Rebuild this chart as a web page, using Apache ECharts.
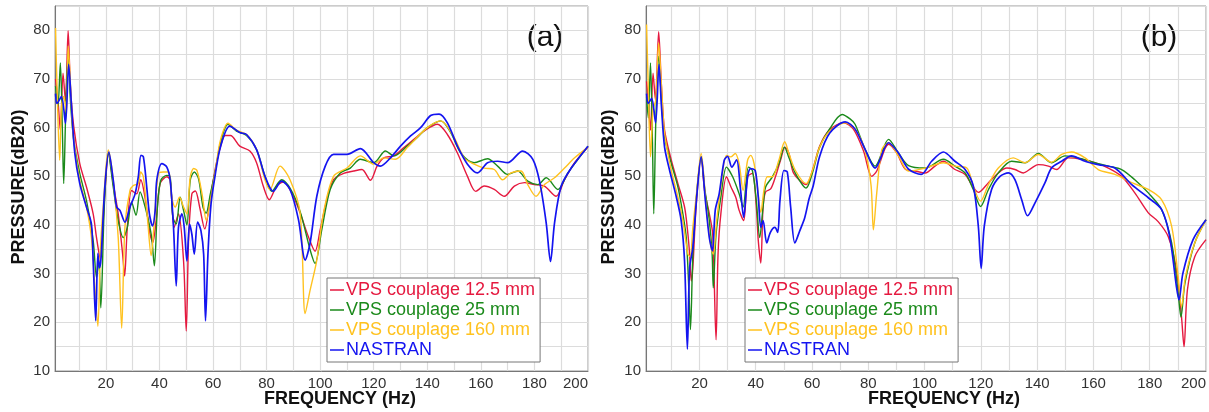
<!DOCTYPE html>
<html>
<head>
<meta charset="utf-8">
<script src="https://cdn.jsdelivr.net/npm/echarts@6/dist/echarts.min.js"></script>
<style>
  html, body { margin: 0; padding: 0; background: #fff; }
  #chart { width: 1209px; height: 412px; }
</style>
</head>
<body>
<div id="chart"></div>
<script>
// series names and colours
const seriesNames = ["VPS couplage 12.5 mm", "VPS couplage 25 mm", "VPS couplage 160 mm", "NASTRAN"];
const seriesColors = ["#E5193F", "#1B8A1B", "#FFC21F", "#1414F0"];

// panel (a) : [frequency Hz, pressure dB]
const redA = [[1.2,70],[2.1,65.7],[3,59.5],[4,71.2],[4.9,65.4],[5.9,79.9],[6.75,68.5],[8,60.2],[10.25,52.6],[12.75,47.8],[15.25,42.3],[16.5,37.4],[17.9,33],[19.6,46.4],[21,54.7],[22.75,48.5],[24.6,42.3],[26.25,34],[27,29.5],[28,39.5],[29.6,47.1],[31.5,46.4],[33,49.3],[34.6,45.7],[36.5,38.1],[37.5,36.4],[38.75,40.9],[40.25,48.5],[42.75,49.9],[44,49.2],[45.5,39.5],[47.1,42.3],[49,32.6],[50,18.2],[50.9,37.4],[52.1,46.4],[53.4,47],[55,43.7],[56.9,39.2],[59,45.7],[61,52],[62.75,56],[64.5,58.4],[66.5,58.4],[70,56.2],[73.75,55.2],[76.25,52.8],[78.75,48],[81,45.2],[83.75,48],[86.25,48.8],[89.4,46.6],[92.5,42.5],[95.6,37.6],[98.1,34.6],[100,39],[102.5,45.2],[105,49.3],[108.75,50.6],[112.5,51.1],[115.6,51.4],[118.75,49.2],[121.25,52.1],[123.75,53.8],[127.5,54.2],[131.25,55.9],[135,57.6],[138.75,59.3],[143.75,60.7],[147.5,58.6],[151.25,54.8],[155,50],[158.1,46.9],[161.25,48],[165,47.3],[168.75,45.9],[172.5,48],[176.25,48.7],[180,48.3],[183.75,48],[188.1,45.9],[191.25,49.3],[195,52.8],[200,56]];
const greenA = [[1.2,68.5],[2.1,64.3],[3,73.3],[3.75,59.5],[4.25,48.5],[5,63],[5.9,75.4],[6.75,65.7],[8,57.4],[10.25,50.6],[12.75,45],[15.25,36.8],[16.5,29.2],[17.3,33],[18.1,23],[19.4,43.7],[20.9,54.7],[22.75,47.8],[24.6,40.9],[26.5,37.4],[28,39.5],[29.6,44.7],[31.25,42],[32.75,46.8],[34,45],[35.9,40.9],[37.1,37.4],[38.1,31.6],[39.25,43.7],[40.5,49.2],[42.75,50.2],[44,49.9],[45,41.6],[46.25,40.2],[47.75,45.7],[49,43],[50.25,40],[51.5,49.2],[53,50.9],[54.6,49.5],[56.25,43.7],[57.4,42.4],[59,46.4],[60.9,51.2],[62.75,56.8],[65.6,60.7],[68.75,59.3],[72.5,58.4],[76.25,55.5],[79.4,50],[81.9,46.9],[85.6,49.3],[88.75,47.6],[92.5,42.8],[96.25,34.9],[98.1,32.1],[100.6,39],[103.75,47.3],[107.5,50.7],[111.25,51.7],[115,53.5],[120,52.8],[124.4,55.2],[127.5,54.2],[132.5,56.2],[136.25,58],[140,60],[145,61.4],[148.75,59],[152.5,54.8],[157.5,52.8],[162.5,53.6],[166.25,52.1],[170,50.4],[173.75,51.1],[177.5,49],[181.25,48.3],[184.4,49.7],[188.75,47.3],[192.5,50.7],[196.25,53.5],[200,56.2]];
const yellowA = [[1.2,80.5],[1.75,68.5],[2.75,53.3],[3.4,64.3],[4.25,66.4],[5.25,63],[5.9,76.8],[6.5,71.9],[7.75,58.8],[10.25,49.2],[12.75,43.7],[14.6,37.4],[15.9,27.1],[17,19.2],[18,35.4],[19,43.7],[20.9,55.4],[22.75,49.2],[24.6,37.4],[25.9,18.8],[27.1,39.5],[29,47.1],[30.25,48.1],[32.1,48.5],[33,50.9],[34,49.9],[35.6,40.9],[36.9,33.7],[38,40.2],[39.6,50.6],[41.5,50.9],[43.4,50.9],[44.6,45.7],[45.9,43.7],[47.5,45.7],[49,43.7],[50.25,42.3],[51.5,49.9],[52.75,51.6],[54,51.2],[55.9,46.4],[57.5,40.9],[59,45],[60.9,51.2],[62.75,57.4],[65.6,60.9],[68.75,59.5],[72.5,58.6],[76.25,55.5],[79.4,49.3],[81.25,47.3],[85,52.1],[88.75,49.3],[92.5,42.5],[94.4,21.8],[96.25,26.6],[98.75,32.8],[101.25,42.5],[105,50],[110,51.7],[115,54.2],[120,52.5],[123.75,53.8],[128.1,53.5],[132.5,55.9],[140,60],[145,61.4],[150,58],[153.75,53.8],[157.5,52.5],[161.25,51.7],[165,51.4],[168.1,49.3],[171.25,50.7],[175,51.1],[177.5,48.3],[180.6,45.9],[183.75,48.3],[187.5,49.7],[191.25,51.7],[195,53.8],[200,56]];
const blueA = [[1.2,67],[1.75,65],[3.4,66.4],[4.9,60.9],[6.1,73],[7.1,65],[8.4,54.7],[10.25,48.5],[12.75,43.7],[14.6,40.2],[15.25,32.6],[16.2,20.3],[17,34.2],[17.6,31.2],[18.2,33.3],[19.6,47.8],[21.1,55],[22.75,49.2],[24,43.7],[25.25,43],[27.1,40.6],[29,43.7],[30.9,46.4],[32.1,49.9],[33.1,54.3],[34,54],[35.25,47.8],[36.25,42.3],[37.4,39.8],[38.4,43],[39,49.2],[40.9,52.6],[42.75,51.9],[44,49.2],[45.25,39.5],[46.25,27.5],[47.1,39.5],[48.4,42.3],[49.25,39.5],[50.25,32.6],[51.25,40.2],[52.1,38.1],[53,34],[54.25,40.6],[55.5,38.8],[56.5,34],[57.2,20.3],[58.1,34],[59.25,44.3],[60.9,50.6],[62.75,56],[66.25,60.3],[70,59],[72.5,58.6],[76.25,55.5],[79.4,50],[82.5,46.9],[85.6,49],[88.75,47.3],[91.9,41.1],[94.4,32.8],[96.25,36.3],[98.75,45.9],[101.9,52.1],[105,54.5],[110,54.5],[115,55.7],[120,52.8],[122.5,52.1],[126.25,53.8],[130,56.2],[133.75,58.3],[137.5,60],[141.25,62.5],[144.4,62.8],[147.5,61],[151.25,56.2],[155,52.5],[158.75,50.7],[162.5,52.8],[166.25,53.1],[170,52.8],[175.6,55.2],[179.4,53.5],[181.9,49],[184.4,40.4],[186,32.5],[187.5,40.4],[190,48],[193.75,51.7],[200,56.2]];

// panel (b)
const redB = [[1.2,69.5],[1.8,65.7],[2.6,59.5],[3.5,71.2],[4.35,65.7],[5.5,79.7],[6.5,68.5],[7.6,59.5],[10,53.3],[12.35,48.5],[14.7,43.7],[15.9,38.1],[16.5,34],[17.1,28.5],[17.65,31.2],[18.8,43.7],[20.6,54],[21.8,47.1],[23.5,42.3],[24.7,38.1],[25.9,16.4],[26.6,34],[27.6,42.3],[29.6,49.9],[31.2,47.8],[32.9,45.7],[34.1,43],[35.7,40.9],[37.1,49.9],[38.8,50.6],[40.2,43.7],[40.9,36.8],[41.8,32.2],[42.6,43.7],[43.5,46.8],[45.3,47.4],[47,49.9],[48.8,53.3],[50.4,56],[51.8,54.7],[53.5,50.6],[57.9,48.3],[60.3,51.5],[62.7,56.2],[66.3,59.6],[71.2,61],[74.7,59.7],[78.3,55.2],[81.2,50],[83,51.1],[87.2,56.6],[90.1,54.8],[93.1,51.5],[96.6,51.1],[100.2,50.7],[103.7,52.1],[106.7,53.1],[110.8,51.4],[114.4,50.4],[116.7,48.3],[119.1,46.7],[122.7,48.7],[126.2,50.7],[129.2,51.7],[132.1,51.4],[135.1,50.7],[138,51.7],[140.4,52.4],[144,52.1],[146.9,51.4],[151.1,53.8],[155.8,53.5],[160.5,52.8],[165.3,51.7],[170,50],[174.7,46.6],[179.5,42.5],[183,40.7],[186.6,37.6],[189.5,30.8],[191.3,21.1],[192.2,15],[193.4,26.7],[196,33.5],[200,37]];
const greenB = [[1.2,66.4],[1.8,62],[2.6,73.3],[3.3,56.8],[3.76,42.3],[4.5,61.6],[5.5,74.7],[6.5,65.7],[7.6,58.1],[10,52.6],[12.35,47.8],[14.1,42.3],[15.3,37.4],[16.2,27.1],[16.8,18.5],[17.65,34],[18.8,45],[20.6,54],[21.8,47.8],[23.5,40.9],[24.5,34],[24.9,27.1],[25.9,38.1],[27.6,45.7],[29.6,51.9],[31.8,49.9],[34.1,46.4],[35.5,43.7],[37.4,51.9],[38.8,51.2],[40.2,45],[41.4,37.4],[42.6,43.7],[43.5,47.8],[45.9,49.9],[48.2,52.6],[50.2,56],[51.8,53.8],[54.1,50.6],[57.9,47.6],[60.3,51],[62.7,56],[66.3,59.8],[70.7,62.7],[73.5,61.8],[75.3,60.7],[78.9,55.5],[82.4,52.1],[87.2,57.6],[90.7,54.8],[94.3,52.2],[100.2,51.7],[106.7,53.5],[110.8,52.1],[114.4,50.7],[117.3,47.3],[119.9,43.8],[122.7,47.3],[126.2,50.7],[130.9,53.1],[135.7,52.8],[140.4,54.7],[145.1,52.8],[149.9,54.2],[154.6,53.8],[160.5,52.8],[165.3,52.1],[170,51.4],[174.7,49.3],[179.5,46.6],[184.2,43.2],[187.8,36.3],[190.1,26],[191.1,21.1],[192.5,28],[196,36.3],[200,41.1]];
const yellowB = [[1.2,81.2],[1.8,68.5],[2.6,54],[3.5,63.7],[4.5,65.7],[5.5,77.4],[6.5,68.5],[7.6,58.8],[10,51.2],[12.35,45.7],[14.1,40.9],[15.9,34],[16.7,33.5],[17.65,39.5],[18.8,45.7],[20.6,54.7],[22.4,43.7],[24.1,35.4],[24.9,34],[26.1,40.9],[27.6,47.8],[29.6,54.3],[31.2,54],[32.7,54.7],[34.1,52.6],[35.5,47.1],[37.1,53.3],[38.2,54.3],[39.4,52.6],[40.6,47.8],[41.8,42.6],[42.9,47.1],[44.1,49.9],[45.9,49.9],[48.2,53.3],[50.3,57.1],[51.8,54.7],[54.1,51.2],[57.9,48.5],[60.3,51.5],[62.7,56],[66.3,59.3],[71.8,61],[75.3,59.7],[78.9,55.2],[81,48],[81.8,39],[83,46.6],[84.8,55.5],[87.2,56.9],[90.7,54.2],[94.3,51.1],[100.2,51.7],[106.7,52.8],[110.8,52.1],[115,51.7],[117.3,48],[119.9,44.9],[122.7,48.3],[126.2,51.7],[131.5,53.8],[135.7,52.8],[140.4,54.5],[145.1,52.9],[148.7,54.5],[152.2,55],[157,53.8],[161.7,51.4],[167.6,50.4],[173.6,48.7],[179.5,47.3],[184.2,45.2],[187.8,39.7],[190.1,29.4],[191.3,23.2],[192.7,29.4],[196,36.3],[200,41.1]];
const blueB = [[1.2,67],[1.8,65],[3,66],[4.4,61],[5.6,73],[6.5,64.3],[7.6,56],[9.4,51.2],[11.8,45.7],[13.5,40.9],[14.7,32.6],[15.7,14.5],[16.5,31.2],[17.65,35.4],[19.1,46.4],[20.6,54],[22.1,45],[23.5,37.4],[24.6,34.7],[25.6,43],[27,46.4],[28.8,53.3],[30,54.1],[31.5,51.9],[33.2,53.4],[34.5,47.8],[35.7,41.6],[37.1,49.9],[38.2,51.6],[39.8,51.2],[40.9,45.7],[41.8,39.5],[42.6,40.9],[43.9,36.3],[45.2,38.5],[46.8,39.5],[47.8,38.5],[48.6,45],[50,51.2],[51.2,50.9],[52.4,43.7],[53.9,36.3],[55.7,38.9],[57.4,41.5],[59,45.5],[60.4,48],[62.7,54.1],[66.3,58.9],[71.8,61.2],[75.3,59.7],[78.9,55.5],[82.4,51.7],[87.2,56.9],[90.7,54.8],[94.3,51.5],[98.8,50.4],[102.5,53.1],[106.7,55],[110.8,53.1],[114.4,51.4],[117.3,48],[119.1,39.7],[120.1,31.1],[121.2,39.7],[123.8,47.3],[126.8,50],[129.8,50.7],[132.1,49.3],[134.5,45.2],[136.6,41.9],[139.2,44.5],[142.8,48.7],[145.1,51.7],[148.7,53.1],[152.2,54.2],[157,53.1],[161.7,52.4],[167.6,51.7],[173.6,48.3],[179.5,45.6],[184.2,43.2],[187.1,37.6],[189.5,27.3],[190.4,24.6],[191.8,30.1],[195.4,37],[200,41.1]];

const panelData = [
  [redA, greenA, yellowA, blueA],
  [redB, greenB, yellowB, blueB]
];
const panelLabels = ["(a)", "(b)"];
const xName = "FREQUENCY (Hz)";
const yName = "PRESSURE(dB20)";

const FONT = "Liberation Sans, Arial, sans-serif";
const chart = echarts.init(document.getElementById("chart"));

const grids = [
  { left: 55, top: 6, right: 621, bottom: 41 },
  { left: 646, top: 6, right: 2, bottom: 41 }
];

const xAxes = grids.map((g, i) => ({
  type: "value",
  gridIndex: i,
  min: 1,
  max: 200,
  splitNumber: 20,
  axisLine: { lineStyle: { color: "#777", width: 1 } },
  axisTick: { show: false },
  splitLine: { lineStyle: { color: "#dcdcdc", width: 1.2 } },
  axisLabel: {
    color: "#333",
    fontSize: 15,
    fontFamily: FONT,
    margin: 5,
    alignMaxLabel: "right",
    formatter: (v) => (v % 20 === 0 ? String(v) : "")
  }
}));

const yAxes = grids.map((g, i) => ({
  type: "value",
  gridIndex: i,
  min: 10,
  max: 85,
  interval: 5,
  axisLine: { show: true, lineStyle: { color: "#777", width: 1 } },
  axisTick: { show: false },
  splitLine: { lineStyle: { color: "#dcdcdc", width: 1.2 } },
  axisLabel: {
    color: "#333",
    fontSize: 15,
    fontFamily: FONT,
    margin: 5,
    formatter: (v) => (v % 10 === 0 ? String(v) : "")
  }
}));

const series = [];
panelData.forEach((lines, p) => {
  lines.forEach((data, k) => {
    series.push({
      name: seriesNames[k],
      type: "line",
      xAxisIndex: p,
      yAxisIndex: p,
      data,
      symbol: "none",
      smooth: 0.3,
      color: seriesColors[k],
      lineStyle: { width: k === 3 ? 1.7 : 1.4, color: seriesColors[k] },
      animation: false
    });
  });
});

const legendData = seriesNames.map((n, k) => ({
  name: n,
  textStyle: { color: seriesColors[k] }
}));

const legends = [327, 745].map((left) => ({
  left,
  top: 278,
  orient: "vertical",
  icon: "rect",
  itemWidth: 14,
  itemHeight: 1.5,
  itemGap: 2,
  padding: [3, 5, 3, 3],
  backgroundColor: "#fff",
  borderColor: "#777",
  borderWidth: 1,
  selectedMode: false,
  data: legendData,
  textStyle: { fontSize: 18, lineHeight: 18, fontFamily: FONT, padding: [0, 0, 0, -3] }
}));

const graphic = [];
[340, 944].forEach((cx) => {
  graphic.push({
    type: "text", x: cx, y: 399,
    style: { text: xName, fill: "#111", font: "bold 18px " + FONT, align: "center", verticalAlign: "middle" }
  });
});
[19, 609].forEach((cx) => {
  graphic.push({
    type: "text", x: cx, y: 187, rotation: Math.PI / 2,
    style: { text: yName, fill: "#111", font: "bold 18px " + FONT, align: "center", verticalAlign: "middle" }
  });
});
[[545, 38], [1159, 38]].forEach((pos, i) => {
  graphic.push({
    type: "text", x: pos[0], y: pos[1],
    style: { text: panelLabels[i], fill: "#111", font: "30px " + FONT, align: "center", verticalAlign: "middle" }
  });
});

chart.setOption({
  backgroundColor: "#fff",
  animation: false,
  grid: grids.map((g) => ({ ...g, show: true, borderColor: "#999", borderWidth: 1 })),
  xAxis: xAxes,
  yAxis: yAxes,
  legend: legends,
  graphic,
  series
});
</script>
</body>
</html>
